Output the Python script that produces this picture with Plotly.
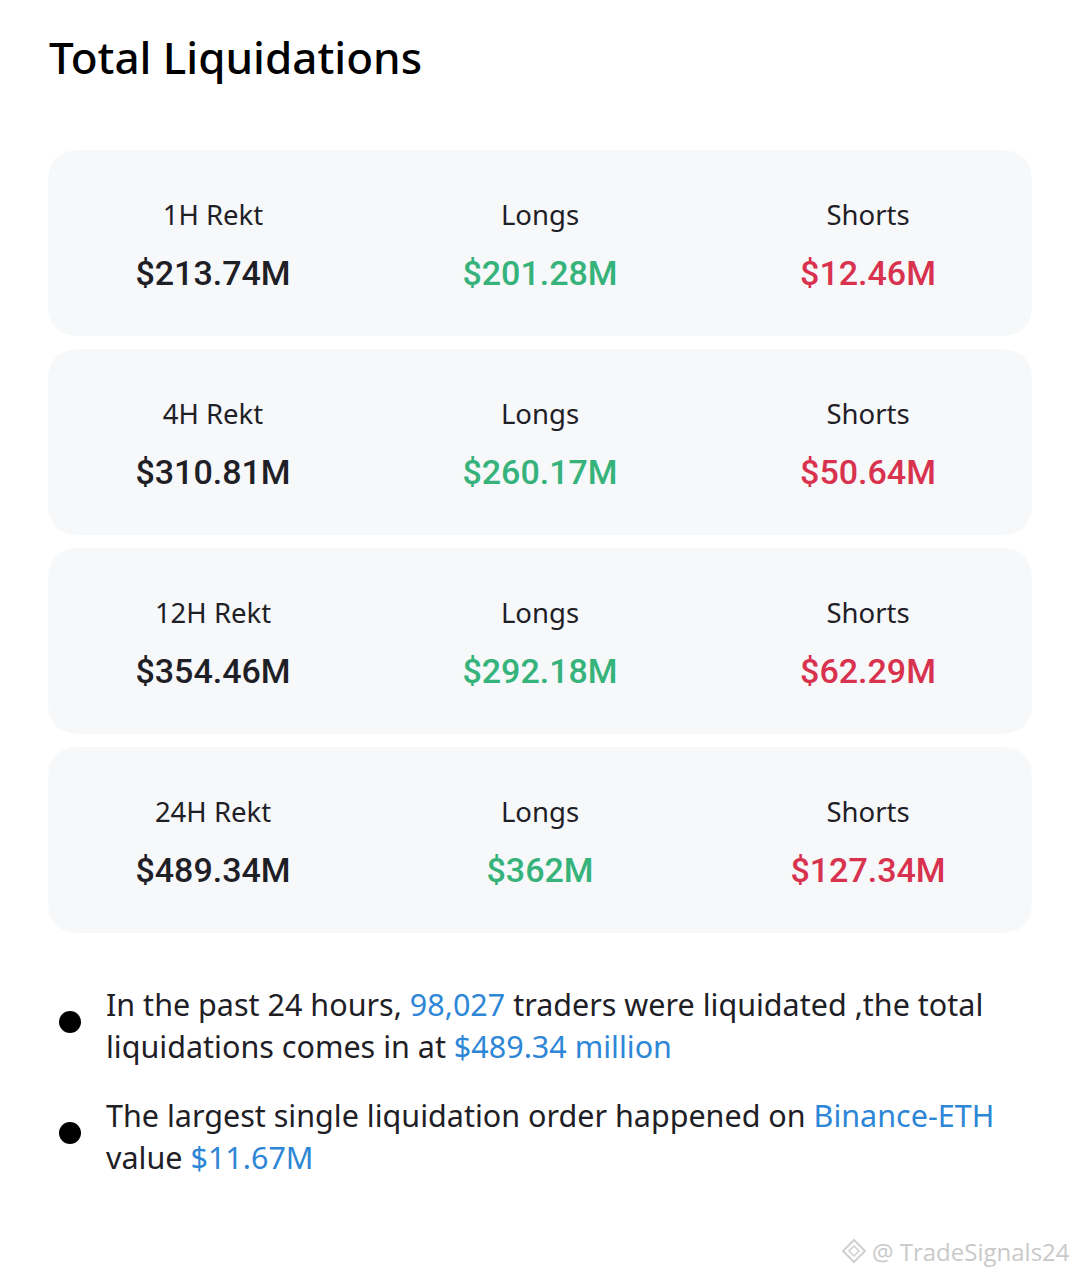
import plotly.graph_objects as go

# card data
periods = ["1H Rekt", "4H Rekt", "12H Rekt", "24H Rekt"]
totals = ["$213.74M", "$310.81M", "$354.46M", "$489.34M"]
longs = ["$201.28M", "$260.17M", "$292.18M", "$362M"]
shorts = ["$12.46M", "$50.64M", "$62.29M", "$127.34M"]
col_labels = ["Longs", "Shorts"]

# summary data
traders = "98,027"
total_24h = "$489.34 million"
biggest_pair = "Binance-ETH"
biggest_value = "$11.67M"

W, H = 1080, 1276
PAD = 8  # page body margin of the html output
DARK = "#1E2026"
GREEN = "#35B37B"
RED = "#D8324E"
BLUE = "#2E86D6"
CARD = "#F6F8FA"
LABEL_FONT = "Noto Sans"
VALUE_FONT = "Roboto"

col_x = [213, 540, 868]
card_top0, card_h, card_step = 150, 186, 199


def rounded_rect(x0, y0, x1, y1, r):
    return (f"M {x0+r},{y0} H {x1-r} Q {x1},{y0} {x1},{y0+r} V {y1-r} "
            f"Q {x1},{y1} {x1-r},{y1} H {x0+r} Q {x0},{y1} {x0},{y1-r} "
            f"V {y0+r} Q {x0},{y0} {x0+r},{y0} Z")


fig = go.Figure()
shapes = []
tops = [card_top0 + i * card_step for i in range(len(periods))]
for t in tops:
    shapes.append(dict(type="path", path=rounded_rect(48, t, 1032, t + card_h, 32),
                       fillcolor=CARD, line=dict(width=0), layer="below"))

label_y = [t + 68 for t in tops]
value_y = [t + 126 for t in tops]

columns = [
    (periods, totals, DARK),
    ([col_labels[0]] * len(periods), longs, GREEN),
    ([col_labels[1]] * len(periods), shorts, RED),
]
for cx, (labels, values, color) in zip(col_x, columns):
    fig.add_trace(go.Scatter(
        x=[cx] * len(labels), y=label_y, text=labels, mode="text",
        textfont=dict(family=LABEL_FONT, size=27.5, color=DARK),
        hoverinfo="skip", showlegend=False))
    fig.add_trace(go.Scatter(
        x=[cx] * len(values), y=value_y, text=values, mode="text",
        textfont=dict(family=VALUE_FONT, size=34, color=color, weight=500),
        hoverinfo="skip", showlegend=False))

# bullet dots
fig.add_trace(go.Scatter(
    x=[70, 70], y=[1022, 1133], mode="markers",
    marker=dict(size=22, color="black"), hoverinfo="skip", showlegend=False))


def blue(s):
    return f"<span style='color:{BLUE}'>{s}</span>"


bullet_lines = [
    f"In the past 24 hours, {blue(traders)} traders were liquidated ,the total",
    f"liquidations comes in at {blue(total_24h)}",
    f"The largest single liquidation order happened on {blue(biggest_pair)}",
    f"value {blue(biggest_value)}",
]
line_y = [1004, 1046, 1115, 1157]

annotations = [dict(
    x=47, y=57, xref="x", yref="y", text="Total Liquidations", showarrow=False,
    xanchor="left", yanchor="middle",
    font=dict(family=LABEL_FONT, size=44, color="black", weight=500))]
for txt, y in zip(bullet_lines, line_y):
    annotations.append(dict(
        x=104, y=y, xref="x", yref="y", text=txt, showarrow=False,
        xanchor="left", yanchor="middle",
        font=dict(family=LABEL_FONT, size=30.5, color=DARK)))

# watermark
annotations.append(dict(
    x=1072, y=1251, xref="x", yref="y", text="@ TradeSignals24", showarrow=False,
    xanchor="right", yanchor="middle",
    font=dict(family="Open Sans", size=24, color="#C9C9C9")))
shapes.append(dict(type="path",
                   path="M 854,1240 L 865,1251 L 854,1262 L 843,1251 Z",
                   line=dict(color="#D0D0D0", width=2), fillcolor="rgba(0,0,0,0)"))
shapes.append(dict(type="path",
                   path="M 854,1246 L 859,1251 L 854,1256 L 849,1251 Z",
                   line=dict(color="#D0D0D0", width=1.5), fillcolor="rgba(0,0,0,0)"))

fig.update_layout(
    width=W - PAD, height=H - PAD,
    margin=dict(l=0, r=0, t=0, b=0),
    paper_bgcolor="white", plot_bgcolor="white",
    xaxis=dict(range=[PAD, W], visible=False, fixedrange=True),
    yaxis=dict(range=[H, PAD], visible=False, fixedrange=True),
    shapes=shapes, annotations=annotations,
)

fig.write_html("out.html")
